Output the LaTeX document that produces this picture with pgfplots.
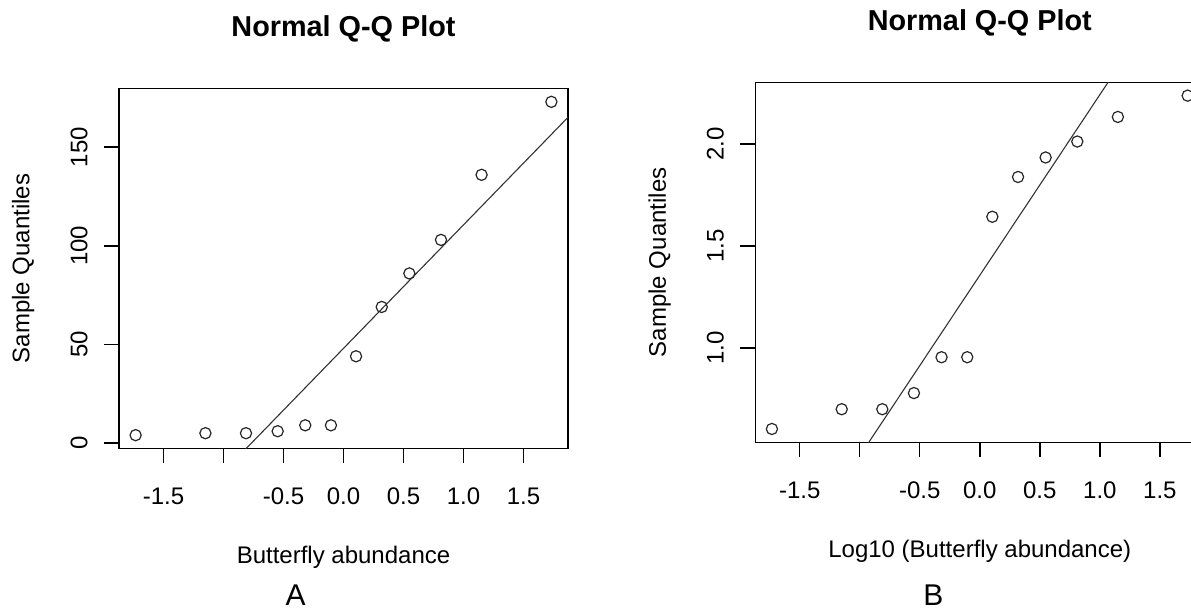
\documentclass[border=0pt]{standalone}
\usepackage{fontspec}
\setmainfont{Liberation Sans}
\usepackage{pgfplots}
\usepackage{pgfplotstable}
\pgfplotsset{compat=1.18}

\pgfplotstableread{
q y
-1.7317 4
-1.1503 5
-0.8122 5
-0.5485 6
-0.3186 9
-0.1046 9
0.1046 44
0.3186 69
0.5485 86
0.8122 103
1.1503 136
1.7317 173
}\dataA

\pgfplotstableread{
q y
-1.7317 0.6021
-1.1503 0.6990
-0.8122 0.6990
-0.5485 0.7782
-0.3186 0.9542
-0.1046 0.9542
0.1046 1.6435
0.3186 1.8388
0.5485 1.9345
0.8122 2.0128
1.1503 2.1335
1.7317 2.2380
}\dataB

\pgfplotsset{
  rqq/.style={
    scale only axis, width=224.5pt, height=180pt, anchor=south west,
    xmin=-1.8702, xmax=1.8702,
    axis line style={line width=0.7pt, black},
    tick align=outside, major tick length=7.5pt,
    every tick/.style={black, line width=0.7pt},
    tick pos=left,
    xtick={-1.5,-1,-0.5,0,0.5,1,1.5},
    xticklabels={-1.5,{},-0.5,0.0,0.5,1.0,1.5},
    tick label style={font=\fontsize{12}{14}\selectfont},
    xticklabel style={anchor=base, yshift=-20.75pt},
    yticklabel style={xshift=-8.35pt, rotate=90, anchor=base},
    every axis title/.style={at={(axis description cs:0.5,1)}, anchor=base, yshift=25.8pt, font=\bfseries\fontsize{14.4}{17}\selectfont},
    every axis x label/.style={at={(axis description cs:0.5,0)}, anchor=base, yshift=-57.6pt, font=\fontsize{12}{14}\selectfont},
    every axis y label/.style={at={(axis description cs:0,0.5)}, xshift=-44.75pt, rotate=90, anchor=base, font=\fontsize{12}{14}\selectfont},
    title={Normal Q-Q Plot},
    ylabel={Sample Quantiles},
  },
  ptstyle/.style={only marks, mark=o, mark size=2.8pt, mark options={line width=0.6pt, black!85}},
  qqline/.style={no marks, black!80, line width=0.55pt},
}

\begin{document}
\begin{tikzpicture}
\useasboundingbox (0pt,0pt) rectangle (595.5pt,-304.5pt);

\begin{axis}[rqq, name=A, at={(59.5pt,-224.25pt)},
  ymin=-2.76, ymax=179.76,
  ytick={0,50,100,150}, yticklabels={0,50,100,150},
  xlabel={Butterfly abundance}]
\addplot[ptstyle] table[x=q, y=y] {\dataA};
\addplot[qqline] coordinates {(-1.8702,-69.15) (1.8702,165.15)};
\end{axis}
\node[font=\fontsize{15}{18}\selectfont, anchor=base] at ([xshift=88.35pt, yshift=-78.5pt]A.south west) {A};

\begin{axis}[rqq, name=B, at={(377.65pt,-221.15pt)},
  ymin=0.53662, ymax=2.30349,
  ytick={1,1.5,2}, yticklabels={1.0,1.5,2.0},
  xlabel={Log10 (Butterfly abundance)}]
\addplot[ptstyle] table[x=q, y=y] {\dataB};
\addplot[qqline] coordinates {(-1.8702,-0.3015) (1.8702,3.0140)};
\end{axis}
\node[font=\fontsize{15}{18}\selectfont, anchor=base] at ([xshift=89pt, yshift=-81.6pt]B.south west) {B};
\end{tikzpicture}
\end{document}
